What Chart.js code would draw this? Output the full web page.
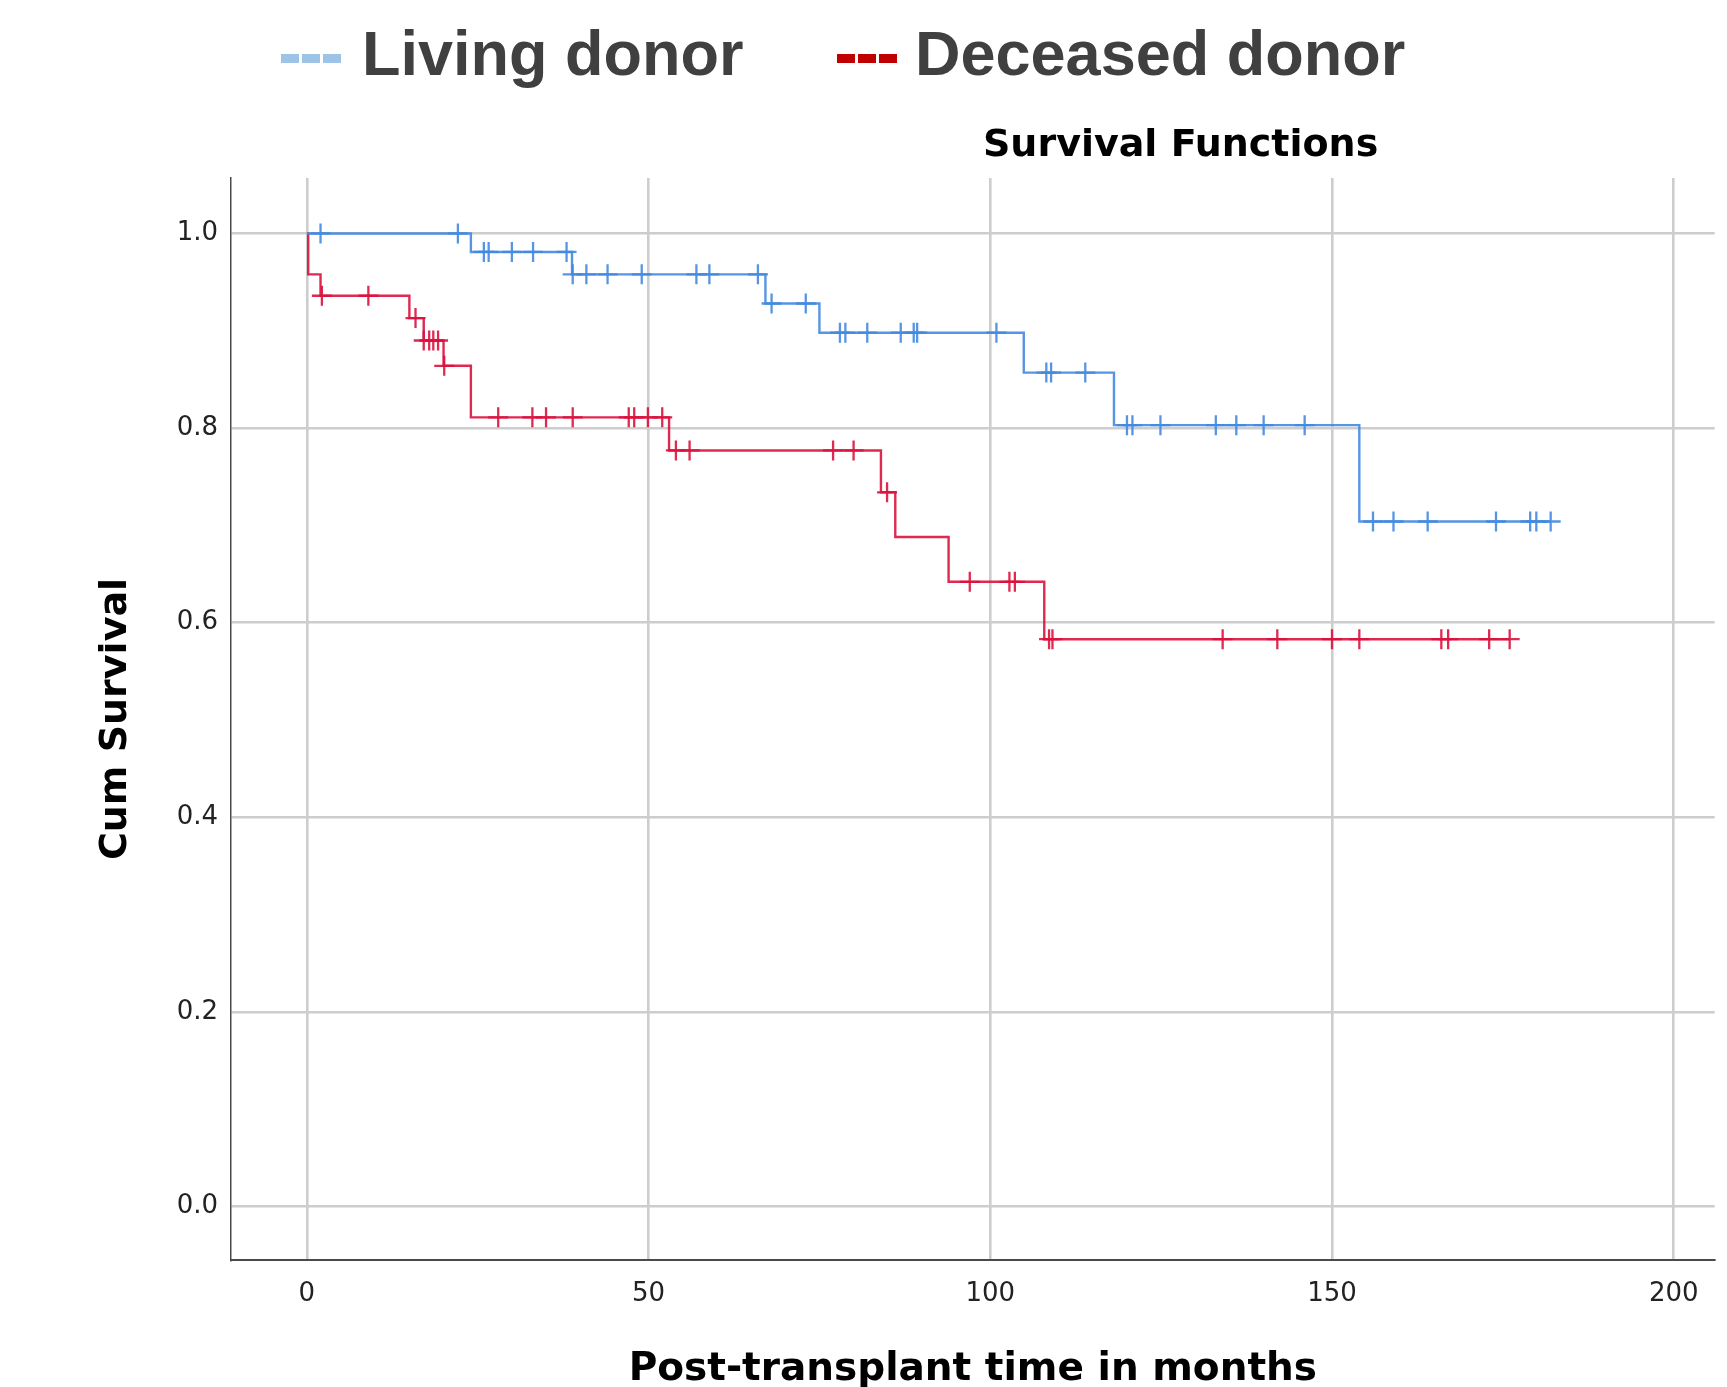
<!DOCTYPE html>
<html>
<head>
<meta charset="utf-8">
<script src="https://cdn.jsdelivr.net/npm/chart.js@4.4.1/dist/chart.umd.min.js"></script>
<style>
  body { margin: 0; background: #fff; }
  #wrap { position: relative; width: 1727px; height: 1387px; overflow: hidden; }
  #km { position: absolute; left: 0; top: 0; }
  .mark { position: absolute; top: 54px; width: 60px; height: 9px; }
  .legtxt { position: absolute; top: 22px; font: bold 63px/63px "Liberation Sans", Arial, sans-serif; color: #404040; white-space: nowrap; }
  #title { position: absolute; left: 983px; top: 124px; font: bold 38px/38px "DejaVu Sans", sans-serif; color: #000; white-space: nowrap; }
</style>
</head>
<body>
<div id="wrap">
  <canvas id="km" width="1727" height="1387"></canvas>
  <div class="mark" style="left:281px;background:repeating-linear-gradient(90deg,#9dc3e6 0 18px,transparent 18px 21px)"></div>
  <div class="legtxt" style="left:362px">Living donor</div>
  <div class="mark" style="left:837px;background:repeating-linear-gradient(90deg,#c00000 0 18px,transparent 18px 21px)"></div>
  <div class="legtxt" style="left:915px">Deceased donor</div>
  <div id="title">Survival Functions</div>
</div>
<script>
// axis ticks
var xTicks = [0, 50, 100, 150, 200];
var yTicks = [0, 0.2, 0.4, 0.6, 0.8, 1.0];

// living donor: event times (months) and survival after each event
var livingEventTimes = [24.0, 38.8, 67.1, 75.0, 104.9, 118.1, 154.0];
var livingSurv = [0.981, 0.958, 0.928, 0.898, 0.857, 0.803, 0.704];
var livingCensored = [2.0, 22.1, 25.9, 26.6, 30.0, 33.1, 38.0, 38.9, 40.9, 44.0, 49.0, 57.0, 58.9, 66.0,
  68.0, 73.0, 78.0, 78.8, 82.0, 86.9, 88.8, 89.3, 100.9, 108.2, 108.9, 113.9,
  120.0, 120.8, 124.9, 133.0, 136.0, 140.0, 146.0, 156.0, 159.0, 164.0, 174.0, 179.0, 179.9, 182.0];

// deceased donor
var deceasedEventTimes = [0.2, 2.0, 15.0, 17.1, 20.0, 24.0, 53.0, 84.0, 86.1, 93.9, 107.9];
var deceasedSurv = [0.958, 0.936, 0.913, 0.890, 0.864, 0.811, 0.777, 0.734, 0.688, 0.642, 0.583];
var deceasedCensored = [2.2, 9.0, 15.9, 17.1, 17.9, 18.5, 19.2, 20.1, 28.0, 33.0, 35.0, 38.9, 47.1, 47.9, 49.9, 52.0,
  54.0, 56.0, 77.0, 80.0, 84.9, 97.0, 102.8, 103.6, 108.6, 109.1, 134.0, 142.0, 150.0, 154.0,
  166.0, 167.0, 173.0, 176.0];

var blue = "rgba(66,138,224,0.9)";
var red = "rgba(218,18,62,0.9)";

function survAt(times, surv, t) {
  var s = 1;
  for (var i = 0; i < times.length; i++) if (times[i] <= t) s = surv[i];
  return s;
}
function stepPoints(times, surv, cens) {
  var pts = [{ x: 0, y: 1 }];
  for (var i = 0; i < times.length; i++) pts.push({ x: times[i], y: surv[i] });
  pts.push({ x: Math.max.apply(null, cens), y: surv[surv.length - 1] });
  return pts;
}
function censPoints(times, surv, cens) {
  return cens.map(function (t) { return { x: t, y: survAt(times, surv, t) }; });
}
function stepSet(pts, col) {
  return { data: pts, showLine: true, stepped: "before", borderColor: col, borderWidth: 2.4, pointRadius: 0, fill: false };
}
function censSet(pts, col) {
  return { data: pts, showLine: false, pointStyle: "cross", pointRadius: 10, pointBorderColor: col, pointBorderWidth: 2.3, pointBackgroundColor: col };
}

var ctx = document.getElementById("km").getContext("2d");
var chart = new Chart(ctx, {
  type: "scatter",
  data: {
    datasets: [
      stepSet(stepPoints(livingEventTimes, livingSurv, livingCensored), blue),
      censSet(censPoints(livingEventTimes, livingSurv, livingCensored), blue),
      stepSet(stepPoints(deceasedEventTimes, deceasedSurv, deceasedCensored), red),
      censSet(censPoints(deceasedEventTimes, deceasedSurv, deceasedCensored), red)
    ]
  },
  options: {
    responsive: false,
    animation: false,
    devicePixelRatio: 1,
    layout: { padding: { top: 178, right: 12, left: 0, bottom: 0 } },
    plugins: { legend: { display: false }, tooltip: { enabled: false }, title: { display: false } },
    scales: {
      x: {
        type: "linear",
        min: -11.1,
        max: 206,
        afterBuildTicks: function (s) { s.ticks = xTicks.map(function (v) { return { value: v }; }); },
        afterFit: function (s) { s.height = 127; },
        grid: { color: "#cdcdcd", lineWidth: 2.6, drawTicks: false },
        border: { display: true, color: "#4a4a4a", width: 2 },
        ticks: { padding: 19, color: "#222", font: { family: "DejaVu Sans", size: 26 }, maxRotation: 0 },
        title: { display: true, text: "Post-transplant time in months", color: "#000",
          font: { family: "DejaVu Sans", size: 39, weight: "bold", lineHeight: 0.9 }, padding: { top: 0, bottom: 0 } }
      },
      y: {
        type: "linear",
        min: -0.055,
        max: 1.057,
        afterBuildTicks: function (s) { s.ticks = yTicks.map(function (v) { return { value: v }; }); },
        afterFit: function (s) { s.width = 231; },
        grid: { color: "#cdcdcd", lineWidth: 2.6, drawTicks: false },
        border: { display: true, color: "#4a4a4a", width: 1.5 },
        ticks: { padding: 13, color: "#222", font: { family: "DejaVu Sans", size: 26 },
          callback: function (v) { return Number(v).toFixed(1); } },
        title: { display: true, text: "Cum Survival", color: "#000",
          font: { family: "DejaVu Sans", size: 38, weight: "bold" }, padding: { top: 93, bottom: 0 } }
      }
    }
  }
});
</script>
</body>
</html>
